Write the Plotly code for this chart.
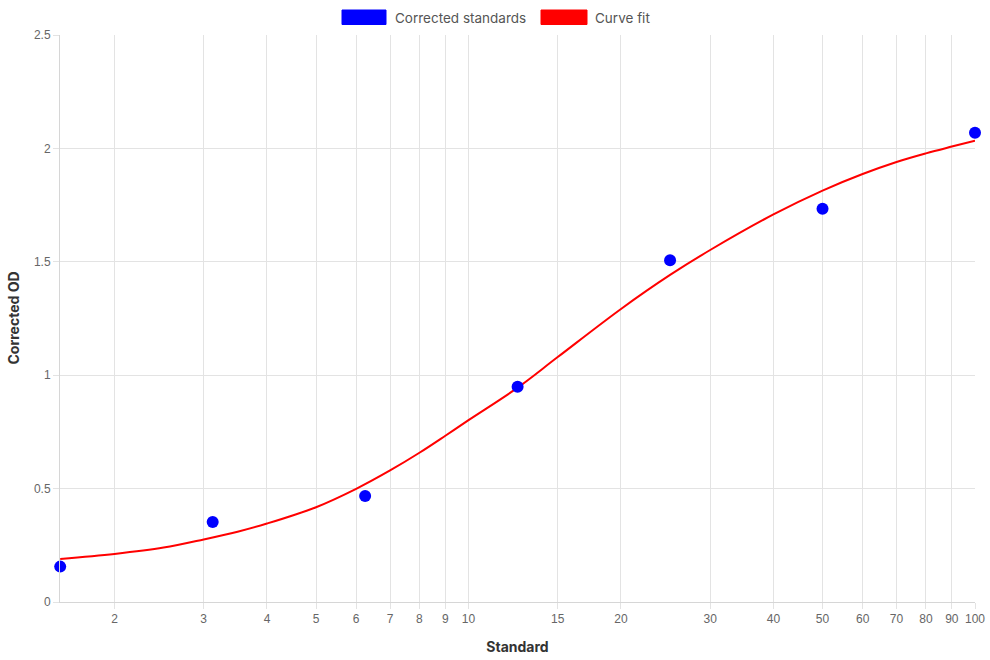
import numpy as np
import plotly.graph_objects as go

# Data
standards = [1.5625, 3.125, 6.25, 12.5, 25, 50, 100]
corrected_od = [0.156, 0.353, 0.467, 0.949, 1.507, 1.734, 2.069]

fit_x = [1.5625, 2, 2.5, 3, 3.5, 4, 5, 6, 7, 8, 9, 10, 12.5, 15, 20, 25, 30, 40, 50, 60, 70, 80, 90, 100]
fit_y = [0.190, 0.212, 0.240, 0.276, 0.310, 0.346, 0.418, 0.499, 0.580, 0.658, 0.733, 0.802, 0.945, 1.080,
         1.292, 1.442, 1.552, 1.709, 1.814, 1.887, 1.940, 1.978, 2.008, 2.034]

x_ticks = [2, 3, 4, 5, 6, 7, 8, 9, 10, 15, 20, 30, 40, 50, 60, 70, 80, 90, 100]
y_ticks = [0, 0.5, 1, 1.5, 2, 2.5]
legend_names = ["Corrected standards", "Curve fit"]
legend_colors = ["#0000ff", "#ff0000"]
x_title = "Standard"
y_title = "Corrected OD"

fig = go.Figure()
fig.add_trace(go.Scatter(x=fit_x, y=fit_y, mode="lines", name=legend_names[1],
                         line=dict(color="#ff0000", width=2, shape="spline", smoothing=1.0),
                         showlegend=False))
fig.add_trace(go.Scatter(x=standards, y=corrected_od, mode="markers", name=legend_names[0],
                         marker=dict(color="#0000ff", size=12),
                         showlegend=False, cliponaxis=False))

grid = "#e3e3e3"
tickfont = dict(family="Liberation Sans, Arial, sans-serif", size=12, color="#666666")
titlefont = dict(family="Inter, Lato, sans-serif", size=14, color="#333333", weight="bold")

fig.update_xaxes(type="log", range=[np.log10(1.5625) - 0.0004, 2], tickvals=x_ticks,
                 ticktext=[str(v) for v in x_ticks],
                 showgrid=True, gridcolor=grid, gridwidth=1,
                 showline=True, linecolor="#d6d6d6", linewidth=1,
                 ticks="outside", ticklen=6, tickcolor=grid,
                 tickfont=tickfont, zeroline=False, automargin=False,
                 title=dict(text=x_title, font=titlefont, standoff=16))
fig.update_yaxes(range=[0, 2.5], tickvals=y_ticks, ticktext=["0", "0.5", "1", "1.5", "2", "2.5"],
                 showgrid=True, gridcolor=grid, gridwidth=1,
                 showline=True, linecolor="#d6d6d6", linewidth=1,
                 ticks="outside", ticklen=6, tickcolor=grid,
                 tickfont=tickfont, zeroline=False, automargin=False)

# Custom legend (boxes + labels) at top centre
W, H = 990, 660
ml, mr, mt, mb = 60, 15, 35, 58
pw, ph = W - ml - mr, H - mt - mb
def px_to_paper_x(px):
    return (px - ml) / pw
def py_to_paper_y(py):
    return (H - mb - py) / ph

# y-axis title as rotated annotation
fig.add_annotation(text=y_title, xref="paper", yref="paper",
                   x=px_to_paper_x(13), y=0.5, textangle=-90,
                   xanchor="center", yanchor="middle", showarrow=False, font=titlefont)

boxes = [(342, 386), (541, 587)]
text_x = [393, 593]
for (x0, x1), tx, name, col in zip(boxes, text_x, legend_names, legend_colors):
    fig.add_shape(type="rect", xref="paper", yref="paper",
                  x0=px_to_paper_x(x0), x1=px_to_paper_x(x1),
                  y0=py_to_paper_y(24.5), y1=py_to_paper_y(10),
                  fillcolor=col, line=dict(color=col, width=1))
    fig.add_annotation(text=name, xref="paper", yref="paper",
                       x=px_to_paper_x(tx), y=py_to_paper_y(17.5),
                       xanchor="left", yanchor="middle", showarrow=False,
                       font=dict(family="Inter, Lato, sans-serif", size=13.5, color="#555555"))

fig.update_layout(width=W, height=H, margin=dict(l=ml, r=mr, t=mt, b=mb),
                  plot_bgcolor="white", paper_bgcolor="white", showlegend=False)

fig.write_html("out.html")
